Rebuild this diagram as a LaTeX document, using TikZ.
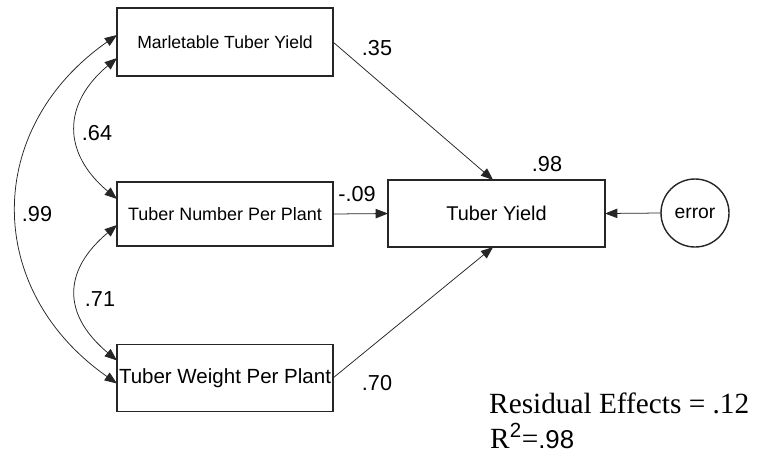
\documentclass[tikz,border=0pt]{standalone}
\usepackage{fontspec}
\setmainfont{Liberation Sans}
\newfontfamily\serifface{Liberation Serif}
\usetikzlibrary{arrows.meta}

\begin{document}
\begin{tikzpicture}[x=0.03cm, y=-0.03cm,
  varbox/.style={draw=black!85, line width=1.2pt, rectangle, inner sep=0pt, outer sep=0pt, minimum width=6.48cm},
  effect/.style={line width=0.65pt, draw=black!85, -{Triangle[length=10.5pt,width=8pt]}},
  corr/.style={line width=0.65pt, draw=black!85, {Triangle[length=10.5pt,width=8pt]}-{Triangle[length=10.5pt,width=8pt]}},
  coef/.style={font=\fontsize{18.5}{20}\selectfont}]

\useasboundingbox (0,0) rectangle (763,464);

% ==== Variables ====
\node[varbox, minimum height=2.04cm, font=\fontsize{15}{16}\selectfont] (mty) at (225,42) {Marletable Tuber Yield};
\node[varbox, minimum height=1.92cm, font=\fontsize{15.3}{16}\selectfont] (tnp) at (225,214) {Tuber Number Per Plant};
\node[varbox, minimum height=2.01cm, font=\fontsize{17.5}{18}\selectfont] (twp) at (225,378) {Tuber Weight Per Plant};
\node[varbox, minimum width=6.51cm, minimum height=2.01cm, font=\fontsize{17}{18}\selectfont] (ty) at (496.5,213.5) {Tuber Yield};
\node[circle, draw=black!85, line width=1.2pt, minimum size=2.04cm, inner sep=0pt, outer sep=0pt, font=\fontsize{16.5}{18}\selectfont] (err) at (695,213) {error};

% ==== Direct effects ====
\draw[effect] (mty.east) -- ([xshift=-0.1cm]ty.north);
\draw[effect] (tnp.east) -- (ty.west);
\draw[effect] (twp.east) -- ([xshift=-0.1cm]ty.south);
\draw[effect] (err.west) -- (ty.east);

% ==== Correlations ====
\draw[corr] ([yshift=0.21cm]mty.west) to[out=215, in=145, looseness=1.2] ([yshift=-0.165cm]twp.west);
\draw[corr] ([yshift=-0.48cm]mty.west) to[out=220, in=140, looseness=1.3] ([yshift=0.45cm]tnp.west);
\draw[corr] ([yshift=-0.33cm]tnp.west) to[out=220, in=140, looseness=1.35] ([yshift=0.525cm]twp.west);

% Coefficients
\node[coef] (c35) at (377,48) {.35};
\node[coef] (c09) at (357,194) {-.09};
\node[coef] (c70) at (377,383) {.70};
\node[coef] (c98) at (547,164) {.98};
\node[coef] (c64) at (97,133) {.64};
\node[coef] (c99) at (37,214) {.99};
\node[coef] (c71) at (100,299) {.71};

% Residual and R squared
\node[anchor=base west, inner sep=0pt, font=\fontsize{25}{30}\selectfont\serifface] (resid) at (489,413) {Residual Effects = .12};
\node[anchor=base west, inner sep=0pt, font=\fontsize{25}{30}\selectfont] (rsq) at (490,448) {{\serifface R}\textsuperscript{2}{\serifface =}\fontsize{22}{26}\selectfont.98};

\end{tikzpicture}
\end{document}
